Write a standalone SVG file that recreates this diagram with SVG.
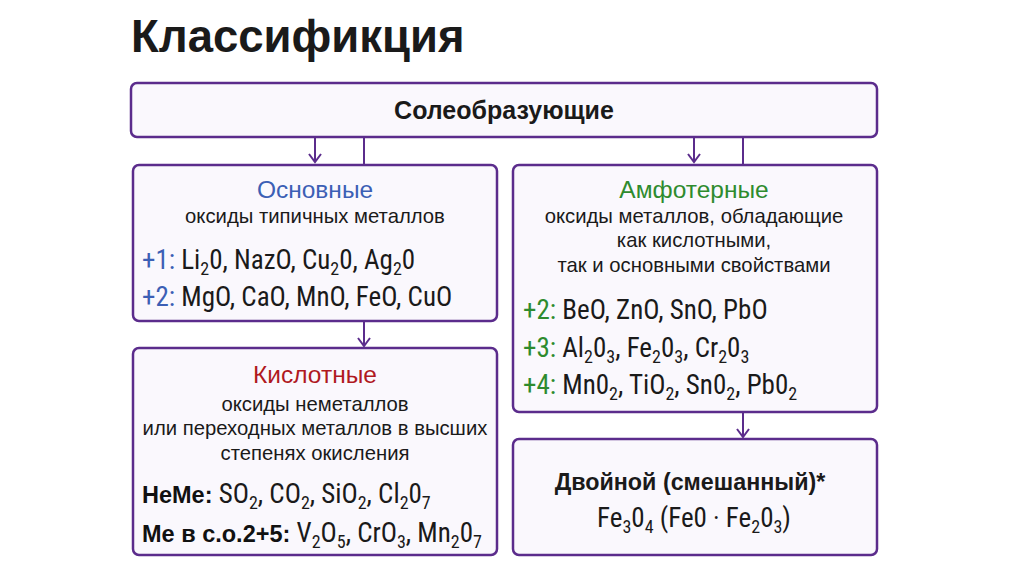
<svg xmlns="http://www.w3.org/2000/svg" width="1024" height="574" viewBox="0 0 1024 574">
<defs>
<style>
.box{fill:#faf8fd;stroke:#5b2c8c;stroke-width:2.5}
.ln{stroke:#5b2c8c;stroke-width:2;fill:none}
.t{font-family:"Liberation Sans",Arial,sans-serif;fill:#1a1a1a}
.n{font-family:"Liberation Sans Narrow","Roboto Condensed","DejaVu Sans Condensed","Liberation Sans",sans-serif;fill:#1a1a1a;font-size:27px}
.h{font-size:24.5px;text-anchor:middle}
.d{font-size:20.3px;text-anchor:middle}
.s{font-size:18px;baseline-shift:-6px}
.b{font-family:"Liberation Sans",Arial,sans-serif;font-size:23.5px;font-weight:bold;fill:#111}
.blue{fill:#3c5fb5}
.green{fill:#2e8b2e}
.red{fill:#b0191f}
</style>
</defs>
<rect width="1024" height="574" fill="#fff"/>
<text x="131" y="52" class="t" font-size="45.5" font-weight="bold" fill="#111">Классификция</text>

<g id="connectors">
<line class="ln" x1="315" y1="137" x2="315" y2="162"/>
<path class="ln" d="M309,154 L315,162 L321,154"/>
<line class="ln" x1="364" y1="137" x2="364" y2="165"/>
<line class="ln" x1="694" y1="137" x2="694" y2="162"/>
<path class="ln" d="M688,154 L694,162 L700,154"/>
<line class="ln" x1="743" y1="137" x2="743" y2="165"/>
<line class="ln" x1="364" y1="321" x2="364" y2="346"/>
<path class="ln" d="M358,338 L364,346 L370,338"/>
<line class="ln" x1="743" y1="412" x2="743" y2="437"/>
<path class="ln" d="M737,429 L743,437 L749,429"/>
</g>

<g id="soleobr">
<rect class="box" x="131" y="83" width="746" height="54" rx="6"/>
<text x="504" y="119" class="t" font-size="25" font-weight="bold" text-anchor="middle">Солеобразующие</text>
</g>

<g id="osnovnye">
<rect class="box" x="133" y="165" width="364" height="156" rx="6"/>
<text x="315" y="198" class="t h blue">Основные</text>
<text x="315" y="223" class="t d">оксиды типичных металлов</text>
<text x="142" y="269" class="n"><tspan class="blue">+1:</tspan> Li<tspan class="s">2</tspan>0, NazO, Cu<tspan class="s">2</tspan>0, Ag<tspan class="s">2</tspan>0</text>
<text x="142" y="306" class="n"><tspan class="blue">+2:</tspan> MgO, CaO, MnO, FeO, CuO</text>
</g>

<g id="amfoternye">
<rect class="box" x="513" y="165" width="364" height="247" rx="6"/>
<text x="694" y="198" class="t h green">Амфотерные</text>
<text x="694" y="223" class="t d">оксиды металлов, обладающие</text>
<text x="694" y="247" class="t d">как кислотными,</text>
<text x="694" y="272" class="t d">так и основными свойствами</text>
<text x="523" y="319" class="n"><tspan class="green">+2:</tspan> BeO, ZnO, SnO, PbO</text>
<text x="523" y="357" class="n"><tspan class="green">+3:</tspan> Al<tspan class="s">2</tspan>0<tspan class="s">3</tspan>, Fe<tspan class="s">2</tspan>0<tspan class="s">3</tspan>, Cr<tspan class="s">2</tspan>0<tspan class="s">3</tspan></text>
<text x="523" y="394" class="n"><tspan class="green">+4:</tspan> Mn0<tspan class="s">2</tspan>, TiO<tspan class="s">2</tspan>, Sn0<tspan class="s">2</tspan>, Pb0<tspan class="s">2</tspan></text>
</g>

<g id="kislotnye">
<rect class="box" x="133" y="348" width="364" height="207" rx="6"/>
<text x="315" y="383" class="t h red">Кислотные</text>
<text x="315" y="411" class="t d">оксиды неметаллов</text>
<text x="315" y="435" class="t d">или переходных металлов в высших</text>
<text x="315" y="460" class="t d">степенях окисления</text>
<text x="142" y="503" class="n"><tspan class="b">НеМе:</tspan> SO<tspan class="s">2</tspan>, CO<tspan class="s">2</tspan>, SiO<tspan class="s">2</tspan>, Cl<tspan class="s">2</tspan>0<tspan class="s">7</tspan></text>
<text x="142" y="542" class="n"><tspan class="b">Ме в с.о.2+5:</tspan> V<tspan class="s">2</tspan>O<tspan class="s">5</tspan>, CrO<tspan class="s">3</tspan>, Mn<tspan class="s">2</tspan>0<tspan class="s">7</tspan></text>
</g>

<g id="dvoinoy">
<rect class="box" x="513" y="439" width="364" height="116" rx="6"/>
<text x="690" y="490" class="t" font-size="23.3" font-weight="bold" text-anchor="middle">Двойной (смешанный)*</text>
<text x="694" y="527" class="n" font-size="22" text-anchor="middle">Fe<tspan class="s">3</tspan>0<tspan class="s">4</tspan> (Fe0 · Fe<tspan class="s">2</tspan>0<tspan class="s">3</tspan>)</text>
</g>
</svg>
